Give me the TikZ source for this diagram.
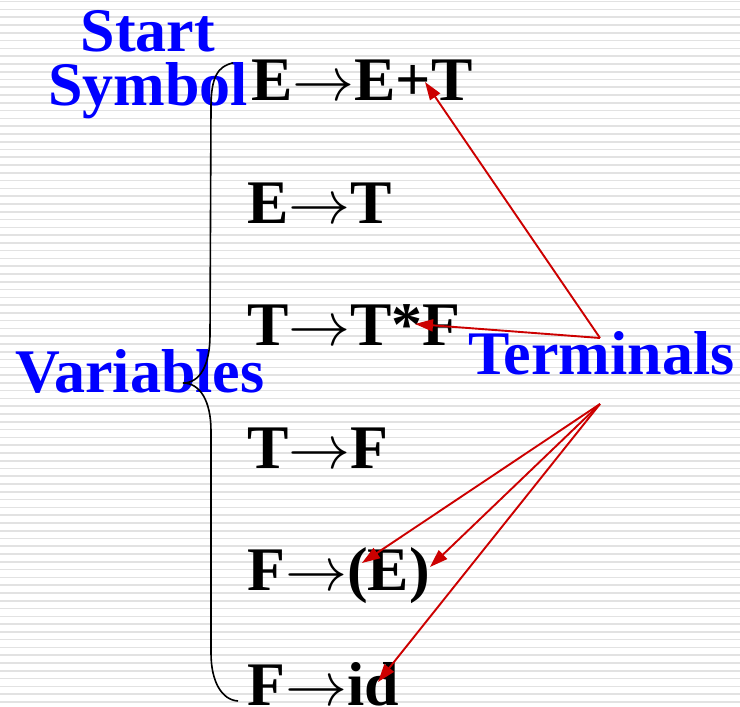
\documentclass[tikz,border=0pt]{standalone}
\usepackage{fix-cm}
\usepackage{fontspec}
\setmainfont{Liberation Serif}
\usetikzlibrary{positioning,arrows.meta}
\definecolor{azul}{HTML}{0000FF}
\definecolor{vermelho}{HTML}{CC0000}
\definecolor{listra}{HTML}{E2E2E2}
\definecolor{tinta}{HTML}{000000}
\newcommand{\produz}{\ensuremath{\rightarrow}}

\begin{document}
\begin{tikzpicture}[
    x=1pt, y=1pt, >={Triangle[length=18pt,width=12pt]},
    node distance=66pt,
    prod/.style={inner sep=0pt,text height=44pt,text depth=12pt,anchor=base west,
      font=\fontsize{62}{62}\selectfont\bfseries,text=tinta},
    rotulo/.style={inner sep=0pt,font=\fontsize{62}{54}\selectfont\bfseries,text=azul},
    seta/.style={->,color=vermelho,line width=1.9pt},
  ]
  \useasboundingbox (0,0) rectangle (740,707);
  \fill[white] (0,0) rectangle (740,707);
  \foreach \i in {0,...,90}
    \draw[listra,line width=1.6pt] (0,{705.3-7.78*\i}) -- (740,{705.3-7.78*\i});

  % productions
  \node[prod] (p1) at (251,606) {E\produz E+T};
  \node[prod, below right=66pt and -4pt of p1.south west] (p2) {E\produz T};
  \node[prod, below right=66pt and 0pt of p2.south west] (p3) {T\produz T*F};
  \node[prod, below right=66pt and 0pt of p3.south west] (p4) {T\produz F};
  \node[prod, below right=66pt and 0pt of p4.south west] (p5) {F\produz(E)};
  \node[prod, below right=59pt and 0pt of p5.south west] (p6) {F\produz id};

  % labels
  \node[rotulo,align=center,anchor=south] (start) at (148,588) {Start\\Symbol};
  \node[rotulo,anchor=base west] (vars) at (15,314) {Variables};
  \node[rotulo,anchor=base west] (terms) at (468,332) {Terminals};

  % brace
  \draw[tinta,line width=1.6pt] (233,644) .. controls (218,641) and (211,630) .. (211,600)
    -- (210,372) .. controls (210,342) and (200,324) .. (183,324)
    .. controls (200,324) and (211,306) .. (211,276)
    -- (211,54) .. controls (211,25) and (222,7) .. (238,6);

  % pointers to the terminals
  \coordinate (s1) at (600,369);
  \coordinate (s2) at (600,303);
  \coordinate (t1) at (425,625);
  \coordinate (t2) at (415,383);
  \coordinate (t3) at (362,144);
  \coordinate (t4) at (430,140);
  \coordinate (t5) at (378,25);
  \draw[seta] (s1) -- (t1);
  \draw[seta] (s1) -- (t2);
  \draw[seta] (s2) -- (t3);
  \draw[seta] (s2) -- (t4);
  \draw[seta] (s2) -- (t5);
\end{tikzpicture}
\end{document}
